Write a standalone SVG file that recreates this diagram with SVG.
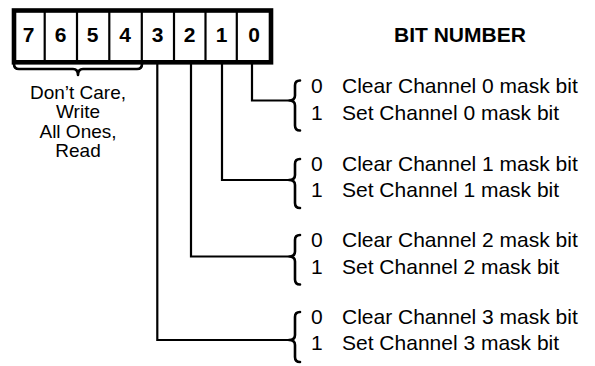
<svg xmlns="http://www.w3.org/2000/svg" width="595" height="366" viewBox="0 0 595 366">
<style>
.t{font-family:"Liberation Sans",Arial,sans-serif;font-size:21px;fill:#000}
.d{font-family:"Liberation Sans",Arial,sans-serif;font-size:19px;fill:#000}
.b{font-family:"Liberation Sans",Arial,sans-serif;font-size:21px;font-weight:bold;fill:#000}
.ln{fill:none;stroke:#000;stroke-width:2.2}
.br{fill:none;stroke:#000;stroke-width:2.6;stroke-linejoin:round;stroke-linecap:round}
</style>
<rect width="595" height="366" fill="#fff"/>
<g id="register">
<rect x="14" y="10.5" width="257" height="51.8" fill="#fff" stroke="#000" stroke-width="4.6"/>
<g class="ln">
<line x1="44.7" y1="12" x2="44.7" y2="61"/>
<line x1="77" y1="12" x2="77" y2="61"/>
<line x1="109.3" y1="12" x2="109.3" y2="61"/>
<line x1="141.8" y1="12" x2="141.8" y2="61"/>
<line x1="174" y1="12" x2="174" y2="61"/>
<line x1="205.5" y1="12" x2="205.5" y2="61"/>
<line x1="236.8" y1="12" x2="236.8" y2="61"/>
</g>
<g class="b" text-anchor="middle">
<text x="28.5" y="41.5">7</text>
<text x="60.5" y="41.5">6</text>
<text x="92.5" y="41.5">5</text>
<text x="125" y="41.5">4</text>
<text x="157.5" y="41.5">3</text>
<text x="189.5" y="41.5">2</text>
<text x="221.5" y="41.5">1</text>
<text x="254" y="41.5">0</text>
</g>
</g>
<text id="title" class="b" x="394" y="41.5">BIT NUMBER</text>
<g id="dontcare">
<path class="br" d="M14,64 Q14,69 19,69 L73,69 Q78,69 78,75 Q78,69 83,69 L137,69 Q142,69 142,64"/>
<g class="d" text-anchor="middle">
<text x="78" y="98.5">Don’t Care,</text>
<text x="78" y="118">Write</text>
<text x="78" y="137.5">All Ones,</text>
<text x="78" y="157">Read</text>
</g>
</g>
<g id="connectors" class="ln">
<polyline points="252,64 252,100.5 288,100.5"/>
<polyline points="222,64 222,180 288,180"/>
<polyline points="191,64 191,256.5 288,256.5"/>
<polyline points="157.3,64 157.3,340 288,340"/>
</g>
<g id="bit0">
<path class="br" d="M300,80.5 Q295,80.5 295,85.5 L295,95.5 Q295,100.5 289,100.5 Q295,100.5 295,105.5 L295,125.5 Q295,130.5 300,130.5"/>
<text class="t" x="311" y="92.5">0</text><text class="t" x="342" y="92.5">Clear Channel 0 mask bit</text>
<text class="t" x="311" y="119.5">1</text><text class="t" x="342" y="119.5">Set Channel 0 mask bit</text>
</g>
<g id="bit1">
<path class="br" d="M300,159 Q295,159 295,164 L295,175 Q295,180 289,180 Q295,180 295,185 L295,203 Q295,208 300,208"/>
<text class="t" x="311" y="171">0</text><text class="t" x="342" y="171">Clear Channel 1 mask bit</text>
<text class="t" x="311" y="197">1</text><text class="t" x="342" y="197">Set Channel 1 mask bit</text>
</g>
<g id="bit2">
<path class="br" d="M300,235 Q295,235 295,240 L295,251.5 Q295,256.5 289,256.5 Q295,256.5 295,261.5 L295,279.5 Q295,284.5 300,284.5"/>
<text class="t" x="311" y="247">0</text><text class="t" x="342" y="247">Clear Channel 2 mask bit</text>
<text class="t" x="311" y="273.5">1</text><text class="t" x="342" y="273.5">Set Channel 2 mask bit</text>
</g>
<g id="bit3">
<path class="br" d="M300,312 Q295,312 295,317 L295,335 Q295,340 289,340 Q295,340 295,345 L295,357 Q295,362 300,362"/>
<text class="t" x="311" y="324">0</text><text class="t" x="342" y="324">Clear Channel 3 mask bit</text>
<text class="t" x="311" y="350">1</text><text class="t" x="342" y="350">Set Channel 3 mask bit</text>
</g>
</svg>
